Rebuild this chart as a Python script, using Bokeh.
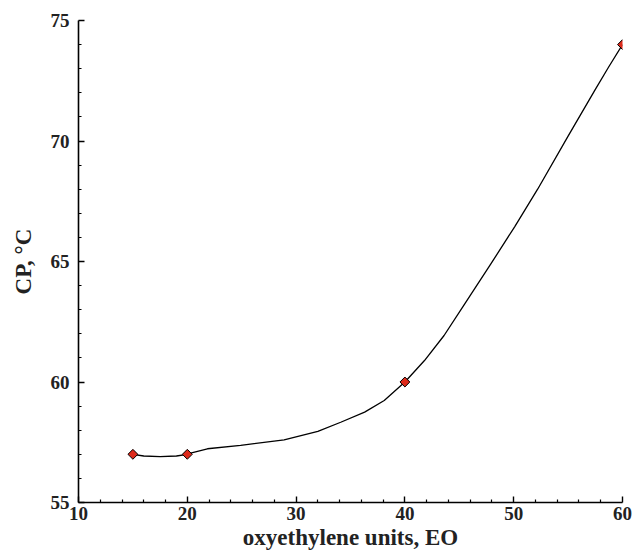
import numpy as np
from bokeh.plotting import figure
from bokeh.models import FixedTicker, Range1d
from bokeh.embed import file_html
from bokeh.resources import INLINE

# measured points
eo_units = [15, 20, 40, 60]
cloud_point = [57.0, 57.0, 60.0, 74.0]

# smooth fitted curve
curve_eo = [15, 16, 17.5, 19, 20, 20.3, 21.85, 24.9, 28.9, 32.0, 34.1, 36.3,
            38.1, 40, 41.8, 43.6, 45.5, 47.9, 50.1, 52.2, 55.0, 57.45, 58.7, 60]
curve_cp = [57.0, 56.93, 56.9, 56.93, 57.0, 57.05, 57.23, 57.37, 57.6, 57.95,
            58.33, 58.75, 59.23, 60.0, 60.89, 61.93, 63.24, 64.9, 66.45, 68.0,
            70.2, 72.1, 73.05, 74.0]

x_major = [10, 20, 30, 40, 50, 60]
x_minor = [12, 14, 16, 18, 22, 24, 26, 28, 32, 34, 36, 38, 42, 44, 46, 48, 52, 54, 56, 58]
y_major = [55, 60, 65, 70, 75]
y_minor = [56, 57, 58, 59, 61, 62, 63, 64, 66, 67, 68, 69, 71, 72, 73, 74]

p = figure(width=632, height=557, output_backend="svg", toolbar_location=None,
           x_range=Range1d(10, 60), y_range=Range1d(55, 75),
           min_border_left=78, min_border_right=10, min_border_top=20,
           min_border_bottom=55)
p.outline_line_color = None
p.grid.visible = False
p.background_fill_color = "white"

p.line(curve_eo, curve_cp, line_color="black", line_width=1.3)
p.scatter(eo_units, cloud_point, marker="square", angle=np.pi / 4, size=7,
          fill_color="#dd2a1b", line_color="black", line_width=1)

font = "Liberation Serif"
for ax in (p.xaxis[0], p.yaxis[0]):
    ax.axis_line_width = 1.6
    ax.axis_line_color = "black"
    ax.major_tick_in = 6
    ax.major_tick_out = 0
    ax.minor_tick_in = 3
    ax.minor_tick_out = 0
    ax.major_tick_line_width = 1.4
    ax.minor_tick_line_width = 1.2
    ax.major_tick_line_color = "black"
    ax.minor_tick_line_color = "black"
    ax.major_label_text_font = font
    ax.major_label_text_font_style = "bold"
    ax.major_label_text_font_size = "19px"
    ax.major_label_text_color = "#222222"
    ax.axis_label_text_font = font
    ax.axis_label_text_font_style = "bold"
    ax.axis_label_text_font_size = "23px"
    ax.axis_label_text_color = "#222222"

p.xaxis[0].ticker = FixedTicker(ticks=x_major, minor_ticks=x_minor)
p.yaxis[0].ticker = FixedTicker(ticks=y_major, minor_ticks=y_minor)
p.xaxis[0].axis_label = "oxyethylene units, EO"
p.yaxis[0].axis_label = "CP, \u00b0C"
p.xaxis[0].major_label_standoff = 4
p.yaxis[0].major_label_standoff = 9
p.xaxis[0].axis_label_standoff = 2
p.yaxis[0].axis_label_standoff = 12

open("out.html", "w").write(file_html(p, INLINE))
